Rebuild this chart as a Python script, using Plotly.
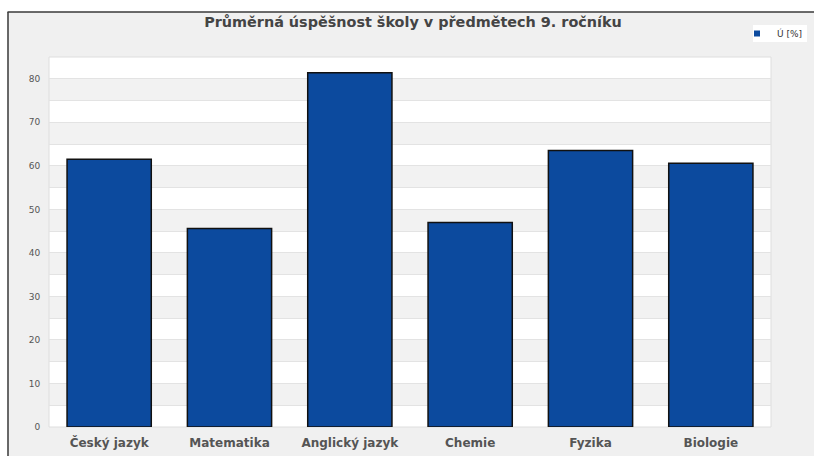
import plotly.graph_objects as go

categories = ["Český jazyk", "Matematika", "Anglický jazyk", "Chemie", "Fyzika", "Biologie"]
values = [61.5, 45.6, 81.4, 47.0, 63.5, 60.6]
series_name = "Ú [%]"
title = "Průměrná úspěšnost školy v předmětech 9. ročníku"
y_max = 85
band_step = 5
bar_color = "#0c4a9e"

W, H = 814, 456
# plot area in page pixels: x 49..771, y 57..427
ml, mr, mt, mb = 49, W - 771, 57, H - 427
pw, ph = W - ml - mr, H - mt - mb

def px_x(p):
    return (p - ml) / pw

def px_y(p):
    return (H - mb - p) / ph

fig = go.Figure()
fig.add_trace(go.Bar(
    x=categories, y=values, name=series_name,
    marker=dict(color=bar_color, line=dict(color="#111111", width=1.5)),
    showlegend=False,
))
fig.add_trace(go.Scatter(
    x=[None], y=[None], mode="markers", name=series_name,
    marker=dict(symbol="square", size=6, color=bar_color),
    showlegend=True,
))

shapes = []
# white page area outside the chart container
shapes.append(dict(type="rect", xref="paper", yref="paper", x0=px_x(-10), x1=px_x(W + 10), y0=px_y(-10), y1=px_y(12),
                   fillcolor="white", line=dict(width=0), layer="below"))
shapes.append(dict(type="rect", xref="paper", yref="paper", x0=px_x(-10), x1=px_x(7.5), y0=px_y(-10), y1=px_y(H + 10),
                   fillcolor="white", line=dict(width=0), layer="below"))
# container frame
shapes.append(dict(type="line", xref="paper", yref="paper", x0=px_x(7.5), x1=px_x(W + 10), y0=px_y(12), y1=px_y(12),
                   line=dict(color="#3a3a3a", width=1.5), layer="above"))
shapes.append(dict(type="line", xref="paper", yref="paper", x0=px_x(8), x1=px_x(8), y0=px_y(12), y1=px_y(H + 10),
                   line=dict(color="#3a3a3a", width=1.5), layer="above"))
# legend box
shapes.append(dict(type="rect", xref="paper", yref="paper", x0=px_x(753), x1=px_x(807), y0=px_y(42), y1=px_y(25),
                   fillcolor="white", line=dict(width=0), layer="below"))
# alternating bands
v = band_step
while v < y_max - band_step:
    shapes.append(dict(type="rect", xref="paper", yref="y", x0=0, x1=1, y0=v, y1=v + band_step,
                       fillcolor="#f2f2f2", line=dict(width=0), layer="below"))
    v += 2 * band_step
shapes.append(dict(type="rect", xref="paper", yref="paper", x0=0, x1=1, y0=0, y1=1,
                   fillcolor="rgba(0,0,0,0)", line=dict(color="#dedede", width=1), layer="below"))

fig.update_layout(
    width=W, height=H,
    margin=dict(l=ml, r=mr, t=mt, b=mb, autoexpand=False),
    paper_bgcolor="#f0f0f0",
    plot_bgcolor="white",
    shapes=shapes,
    bargap=0.3,
    title=dict(text="<b>" + title + "</b>", x=413 / W, xref="container", xanchor="center",
               y=1 - 22 / H, yref="container", yanchor="middle",
               font=dict(family="DejaVu Sans", size=14.4, color="#444444")),
    legend=dict(x=px_x(737), y=px_y(33.5), xref="paper", yref="paper", xanchor="left", yanchor="middle",
                bgcolor="rgba(0,0,0,0)", font=dict(family="DejaVu Sans", size=9, color="#333333"),
                itemwidth=30, borderwidth=0, tracegroupgap=0),
    font=dict(family="DejaVu Sans"),
)
fig.update_yaxes(
    range=[0, y_max], dtick=10, tick0=0,
    showgrid=True, gridcolor="#e3e3e3", gridwidth=1,
    minor=dict(dtick=band_step, showgrid=True, gridcolor="#e3e3e3"),
    zeroline=False, showline=False,
    ticks="outside", ticklen=6, tickcolor="rgba(0,0,0,0)",
    tickfont=dict(family="DejaVu Sans", size=9, color="#555555"),
)
fig.update_xaxes(
    showgrid=False, showline=False, zeroline=False,
    ticks="outside", ticklen=5, tickcolor="rgba(0,0,0,0)",
    tickfont=dict(family="DejaVu Sans", size=12, color="#555555", weight="bold"),
)

fig.write_html("out.html", config={"displayModeBar": False},
               post_script="document.body.style.margin='0';document.body.style.overflow='hidden';")
